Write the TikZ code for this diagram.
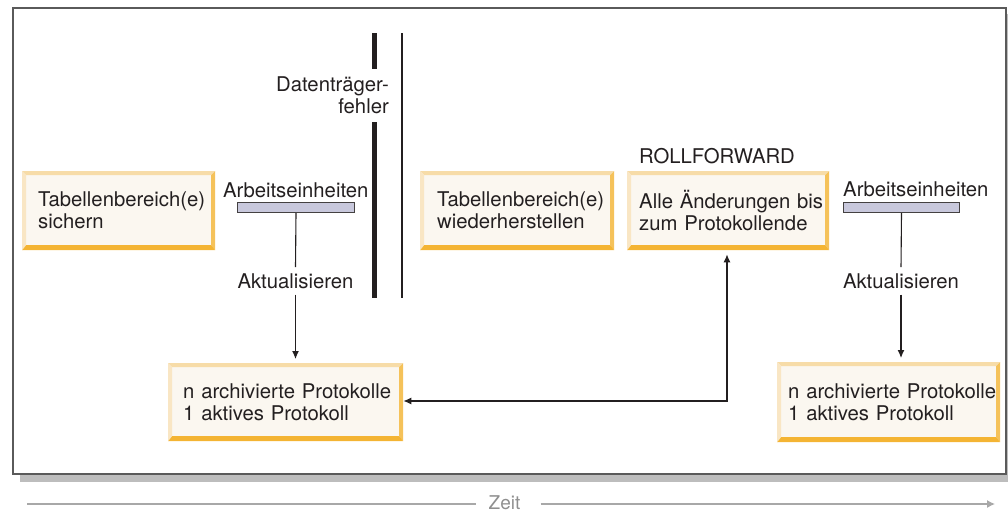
\documentclass[tikz,border=0pt]{standalone}
\usepackage{fontspec}
\setmainfont{TeX Gyre Heros}
\usetikzlibrary{arrows.meta}

\definecolor{ink}{HTML}{231F20}
\definecolor{boxfill}{HTML}{FBF7F0}
\definecolor{bevleft}{HTML}{F9E6C4}
\definecolor{bevtop}{HTML}{F7DCA8}
\definecolor{bevright}{HTML}{F5C25A}
\definecolor{bevbottom}{HTML}{F4B433}
\definecolor{barfill}{HTML}{C8C8DC}
\definecolor{framegray}{HTML}{5A5A5A}
\definecolor{shadowgray}{HTML}{BDBDBD}
\definecolor{timegray}{HTML}{A8A8A8}

\begin{document}
\hyphenpenalty=10000
\exhyphenpenalty=10000
\begin{tikzpicture}[x=1pt,y=-1pt,
  every node/.style={font=\fontsize{20.3}{22}\selectfont, text=ink},
  % cream box with a bevelled orange rim
  logbox/.style={fill=boxfill, anchor=north west, inner ysep=0pt, align=left,
    path picture={
      \path (path picture bounding box.north west) coordinate (pNW)
            (path picture bounding box.north east) coordinate (pNE)
            (path picture bounding box.south west) coordinate (pSW)
            (path picture bounding box.south east) coordinate (pSE);
      \fill[bevtop] (pNW) -- (pNE) -- ([shift={(-4pt,-4pt)}]pNE) -- ([shift={(4pt,-4pt)}]pNW) -- cycle;
      \fill[bevleft] (pNW) -- ([shift={(4pt,-4pt)}]pNW) -- ([shift={(4pt,5pt)}]pSW) -- (pSW) -- cycle;
      \fill[bevright] (pNE) -- (pSE) -- ([shift={(-4pt,5pt)}]pSE) -- ([shift={(-4pt,-4pt)}]pNE) -- cycle;
      \fill[bevbottom] (pSW) -- (pSE) -- ([shift={(-4pt,5pt)}]pSE) -- ([shift={(4pt,5pt)}]pSW) -- cycle;
    }},
  unitbar/.style={draw=ink!85, fill=barfill, line width=1pt, anchor=north west,
    inner sep=0pt, minimum height=10pt},
  conn/.style={draw=ink, line width=1.1pt},
  tip/.style={-{Latex[length=8pt,width=7pt]}},
  timeline/.style={draw=timegray, line width=1.2pt}
]
\useasboundingbox (0,0) rectangle (1008,514);

% frame with drop shadow
\fill[shadowgray] (20,474) rectangle (1008,482);
\fill[shadowgray] (1006,14) rectangle (1008,482);
\draw[framegray, line width=1.4pt] (13,8) rectangle (1006,474);

% media failure marker
\draw[ink, line width=5pt] (374.5,33) -- (374.5,69);
\draw[ink, line width=5pt] (374.5,122) -- (374.5,298);
\draw[ink, line width=1.2pt] (402,33) -- (402,298);
\node[anchor=east, align=right, inner sep=0pt] (fail) at (389,95) {Datenträger-\\fehler};

% boxes
\node[logbox, minimum width=193pt, minimum height=79pt, inner xsep=16pt, text width=161pt]
  (backup) at (22,171) {Tabellenbereich(e)\\sichern};
\node[logbox, minimum width=194pt, minimum height=79pt, inner xsep=17pt, text width=160pt]
  (restore) at (420,171) {Tabellenbereich(e)\\wiederherstellen};
\node[logbox, minimum width=202pt, minimum height=79pt, inner xsep=12pt, text width=178pt]
  (rollfwd) at (627,171) {Alle~Änderungen~bis\\zum~Protokollende};
\node[logbox, minimum width=235pt, minimum height=78pt, inner xsep=15pt, text width=205pt]
  (logsA) at (168,363) {n~archivierte~Protokolle\\1~aktives~Protokoll};
\node[logbox, minimum width=223pt, minimum height=80pt, inner xsep=11pt, text width=201pt]
  (logsB) at (777,362) {n~archivierte~Protokolle\\1~aktives~Protokoll};

\node[anchor=base west, inner sep=0pt] (rftitle) at (639,163) {ROLLFORWARD};

% units of work, left
\node[anchor=base west, inner sep=0pt] (uowA) at (223,197) {Arbeitseinheiten};
\node[unitbar, minimum width=117pt] (barA) at (237,202) {};
\node[anchor=base, inner sep=6pt] (updA) at (295.5,288) {Aktualisieren};
\draw[conn] (barA.south) -- (updA.north);
\draw[conn, tip, shorten >=4pt] (updA.south) -- (updA.south |- logsA.north);

% units of work, right
\node[anchor=base west, inner sep=0pt] (uowB) at (843,196) {Arbeitseinheiten};
\node[unitbar, minimum width=116pt] (barB) at (843,202) {};
\node[anchor=base, inner sep=6pt] (updB) at (901,288) {Aktualisieren};
\draw[conn] (barB.south) -- (updB.north);
\draw[conn, tip, shorten >=4pt] (updB.south) -- (updB.south |- logsB.north);

% logs feed the roll-forward
\coordinate (turn) at (727,401);
\draw[conn, {Latex[length=8pt,width=7pt]}-{Latex[length=8pt,width=7pt]}, shorten <=4pt]
  (turn |- rollfwd.south) -- (turn) -- (turn -| logsA.east);

% time axis
\coordinate (tstart) at (27,504);
\coordinate (tend) at (995,504);
\node[text=timegray!85!black, inner sep=0pt, font=\fontsize{19}{20}\selectfont] (zeit) at (504.5,502.5) {Zeit};
\draw[timeline] (tstart) -- ([xshift=-12pt]zeit.west |- tstart);
\draw[timeline, -{Latex[length=8pt,width=8pt]}] ([xshift=20pt]zeit.east |- tend) -- (tend);
\end{tikzpicture}
\end{document}
